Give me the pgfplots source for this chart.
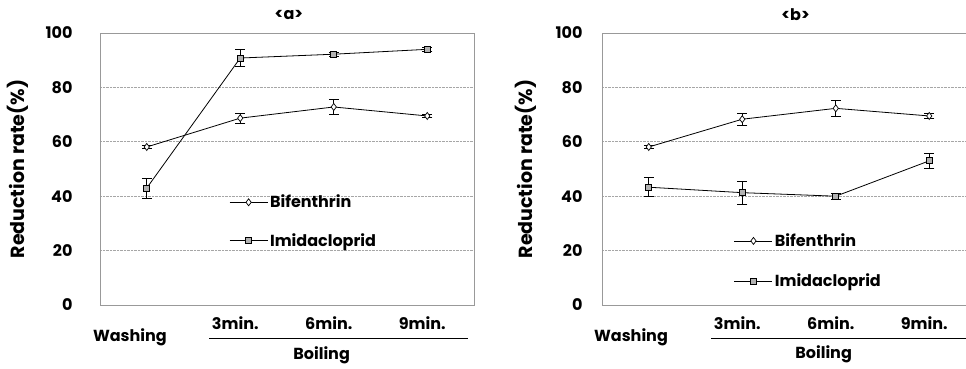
\documentclass[border=0pt]{standalone}
\usepackage{fontspec}
\setmainfont{Poppins}
\usepackage{pgfplots}
\pgfplotsset{compat=1.18}
\usepackage{pgfplotstable}

\pgfplotstableread{
x y e
0 58.1 0.6
1 68.7 1.8
2 72.8 2.8
3 69.5 0.6
}\bifa
\pgfplotstableread{
x y e
0 43.0 3.6
1 90.8 3.2
2 92.2 0.6
3 94.0 0.6
}\imia
\pgfplotstableread{
x y e
0 58.1 0.6
1 68.3 2.3
2 72.3 3.0
3 69.5 0.8
}\bifb
\pgfplotstableread{
x y e
0 43.3 3.5
1 41.3 4.1
2 40.0 1.0
3 53.0 2.6
}\imib

\newcommand{\lbl}{\fontsize{16}{19}\selectfont\bfseries}
\newcommand{\ylbl}{\fontsize{19}{22}\selectfont\bfseries}

\pgfplotsset{
  panel/.style={
    scale only axis, width=374pt, height=272pt,
    anchor=south west,
    xmin=-0.5, xmax=3.5, ymin=0, ymax=100,
    ytick={0,20,...,100},
    xtick={1,2,3}, xticklabels={3min.,6min.,9min.},
    /pgf/number format/assume math mode=true,
    ymajorgrids, grid style={densely dotted, gray!70, line width=0.6pt},
    axis line style={gray!80, line width=0.6pt},
    major tick length=0pt,
    tick label style={font=\lbl},
    xticklabel style={anchor=center, yshift=-18pt, xshift=-5pt},
    ylabel={Reduction rate(\%)},
    clip=false,
    legend style={draw=none, fill=none, font=\lbl, inner sep=0pt, row sep=20pt,
      cells={anchor=west}},
    legend image code/.code={\draw[mark repeat=2,mark phase=2,##1] plot coordinates {(0pt,0pt)(19pt,0pt)(38pt,0pt)};},
  },
  pl/.style={black, line width=0.8pt,
      error bars/y dir=both, error bars/y explicit,
      error bars/error bar style={black, line width=0.6pt},
      error bars/error mark options={rotate=90, mark size=5pt, black, line width=0.6pt}},
  bif/.style={pl, mark=diamond*, mark size=3.5pt, mark options={fill=white, line width=0.7pt}},
  imi/.style={pl, mark=square*, mark size=3pt, mark options={fill=gray!60, line width=0.7pt}},
}

\begin{document}
\begin{tikzpicture}
\path[use as bounding box] (0,0) rectangle (966pt,369pt);

\begin{axis}[panel, at={(100pt,64pt)},
  yticklabel style={xshift=-24pt},
  every axis y label/.style={at={(axis description cs:-0.219,0.5)}, rotate=90, anchor=center, font=\ylbl},
  legend style={at={(axis cs:0.88,41.2)}, anchor=north west}]
\addplot[bif] table[x=x, y=y, y error=e] {\bifa};
\addlegendentry{Bifenthrin}
\addplot[imi] table[x=x, y=y, y error=e] {\imia};
\addlegendentry{Imidacloprid}
\node[font=\lbl] at (axis cs:1.52,106.6) {<a>};
\node[font=\lbl] at (axis cs:-0.18,-11.8) {Washing};
\node[font=\lbl] at (axis cs:1.87,-18.4) {Boiling};
\draw[black, line width=0.6pt] (axis cs:0.67,-12.3) -- (axis cs:3.44,-12.3);
\end{axis}

\begin{axis}[panel, at={(602pt,64pt)},
  yticklabel style={xshift=-16pt},
  every axis y label/.style={at={(axis description cs:-0.203,0.5)}, rotate=90, anchor=center, font=\ylbl},
  legend style={at={(axis cs:0.91,27)}, anchor=north west, row sep=22pt}]
\addplot[bif] table[x=x, y=y, y error=e] {\bifb};
\addlegendentry{Bifenthrin}
\addplot[imi] table[x=x, y=y, y error=e] {\imib};
\addlegendentry{Imidacloprid}
\node[font=\lbl] at (axis cs:1.57,106.6) {<b>};
\node[font=\lbl] at (axis cs:-0.19,-11.8) {Washing};
\node[font=\lbl] at (axis cs:1.87,-18.2) {Boiling};
\draw[black, line width=0.6pt] (axis cs:0.67,-12.3) -- (axis cs:3.44,-12.3);
\end{axis}
\end{tikzpicture}
\end{document}
